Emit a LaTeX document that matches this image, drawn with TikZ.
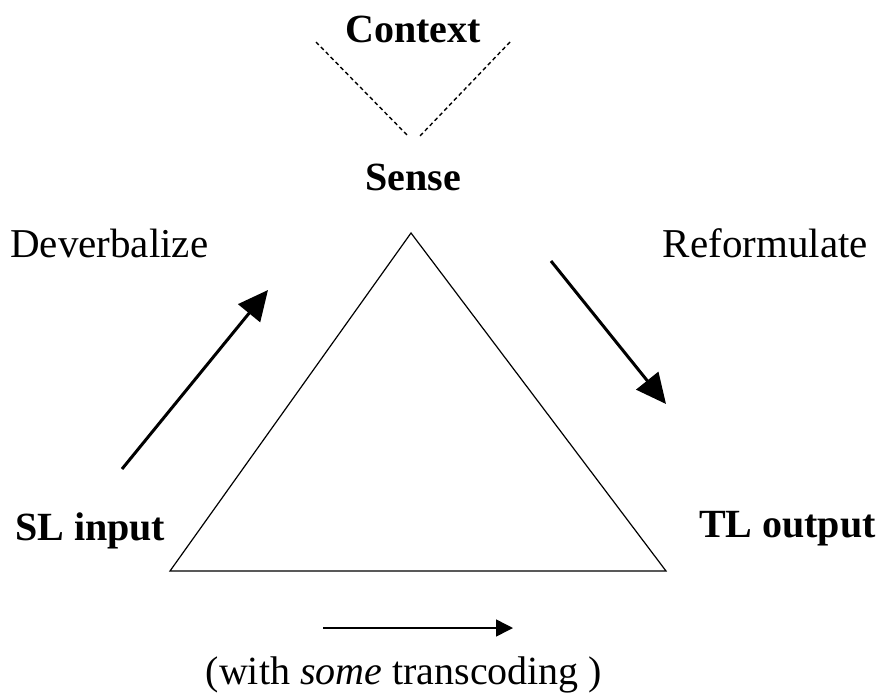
\documentclass[tikz,border=0pt]{standalone}
\usepackage{fontspec}
\setmainfont{Liberation Serif}
\usetikzlibrary{arrows.meta}
\begin{document}
\begin{tikzpicture}[x=1pt,y=-1pt,
  lbl/.style={inner sep=0pt,font=\fontsize{41}{48}\selectfont},
  blbl/.style={inner sep=0pt,font=\fontsize{40}{48}\selectfont\bfseries},
  thickarrow/.style={line width=3pt,-{Triangle[length=30pt,width=28pt]}},
  thinarrow/.style={line width=1.5pt,-{Triangle[length=17pt,width=17pt]}},
  ctxline/.style={dash pattern=on 4pt off 3pt,line width=1.4pt}]
\useasboundingbox (0,0) rectangle (882,695);
% triangle
\coordinate (apex) at (411,233);
\coordinate (bl) at (170,571);
\coordinate (br) at (666,571);
\draw[line width=1.2pt,line join=miter] (apex) -- (bl) -- (br) -- cycle;
% labels
\node[blbl,anchor=base] (context) at (413,43) {Context};
\node[blbl,anchor=base] (sense) at (413,190) {Sense};
\node[lbl,anchor=base west] (deverb) at (10,257) {Deverbalize};
\node[lbl,anchor=base east] (reform) at (868,257) {Reformulate};
\node[blbl,anchor=base west] (sl) at (15,540) {SL input};
\node[blbl,anchor=base east] (tl) at (876,537) {TL output};
\node[lbl,anchor=base,font=\fontsize{40}{48}\selectfont] (trans) at (404,684) {(with \textit{some} transcoding )};
% context dashed lines
\coordinate (c1) at (316,42);
\coordinate (c2) at (408,136);
\coordinate (c3) at (510,42);
\coordinate (c4) at (420,136);
\draw[ctxline] (c1) -- (c2);
\draw[ctxline] (c3) -- (c4);
% arrows
\coordinate (la1) at (122,469);
\coordinate (la2) at (268,290);
\draw[thickarrow] (la1) -- (la2);
\coordinate (ra1) at (551,261);
\coordinate (ra2) at (666,404);
\draw[thickarrow] (ra1) -- (ra2);
\coordinate (ba1) at (323,628);
\coordinate (ba2) at (513,628);
\draw[thinarrow] (ba1) -- (ba2);
\end{tikzpicture}
\end{document}
